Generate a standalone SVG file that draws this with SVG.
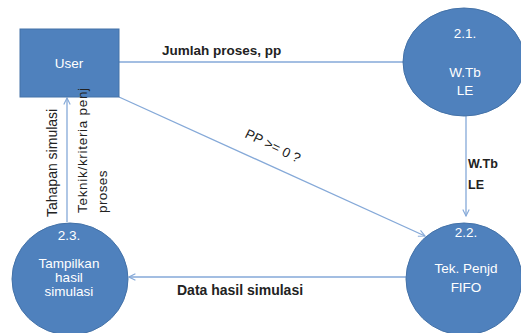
<svg xmlns="http://www.w3.org/2000/svg" width="521" height="333" viewBox="0 0 521 333">
<defs>
<style>
.node{fill:#4f81bd;stroke:#4472a8;stroke-width:1}
.nt{fill:#ffffff;font-family:"Liberation Sans",Arial,sans-serif;font-size:13.5px;text-anchor:middle;dominant-baseline:central}
.lbl{fill:#222222;font-family:"Liberation Sans",Arial,sans-serif;font-size:13.5px}
.b{font-weight:bold}
.conn{stroke:#85a9d8;stroke-width:1.3;fill:none}
</style>
<marker id="arr" viewBox="0 0 10 10" refX="9" refY="5" markerWidth="8" markerHeight="8" markerUnits="userSpaceOnUse" orient="auto">
<path d="M1,1 L9,5 L1,9" fill="none" stroke="#85a9d8" stroke-width="1.4"/>
</marker>
</defs>
<rect width="521" height="333" fill="#ffffff"/>
<g id="connectors">
<line class="conn" x1="119" y1="62" x2="403" y2="62"/>
<line class="conn" x1="466" y1="116" x2="466" y2="216" marker-end="url(#arr)"/>
<line class="conn" x1="119" y1="97" x2="425" y2="236" marker-end="url(#arr)"/>
<line class="conn" x1="406" y1="277" x2="129" y2="277" marker-end="url(#arr)"/>
<line class="conn" x1="67" y1="222" x2="67" y2="98" marker-end="url(#arr)"/>
</g>
<g id="user">
<rect class="node" x="20" y="29" width="99" height="68"/>
<text class="nt" x="69" y="63">User</text>
</g>
<g id="p21">
<ellipse class="node" cx="464" cy="62" rx="61" ry="54"/>
<text class="nt" x="465" y="33">2.1.</text>
<text class="nt" x="465" y="72">W.Tb</text>
<text class="nt" x="465" y="90">LE</text>
</g>
<g id="p22">
<ellipse class="node" cx="464" cy="279" rx="58" ry="56"/>
<text class="nt" x="466" y="232">2.2.</text>
<text class="nt" x="466" y="268">Tek. Penjd</text>
<text class="nt" x="466" y="287">FIFO</text>
</g>
<g id="p23">
<ellipse class="node" cx="70" cy="279" rx="58" ry="56"/>
<text class="nt" x="69" y="235">2.3.</text>
<text class="nt" x="69" y="263">Tampilkan</text>
<text class="nt" x="69" y="277">hasil</text>
<text class="nt" x="69" y="291">simulasi</text>
</g>
<g id="labels">
<text class="lbl b" x="162" y="55">Jumlah proses, pp</text>
<text class="lbl b" x="177" y="295" style="font-size:14px">Data hasil simulasi</text>
<text class="lbl b" x="468" y="168" style="font-size:12.5px">W.Tb</text>
<text class="lbl b" x="468" y="189" style="font-size:12.5px">LE</text>
<text class="lbl" transform="translate(271,150) rotate(26)" text-anchor="middle">PP &gt;= 0 ?</text>
<text class="lbl" transform="translate(57,217) rotate(-90)" style="font-size:14px">Tahapan simulasi</text>
<text class="lbl" transform="translate(87,213) rotate(-90)" style="letter-spacing:0.7px">Teknik/kriteria penj</text>
<text class="lbl" transform="translate(107,213) rotate(-90)" style="letter-spacing:0.4px">proses</text>
</g>
</svg>
